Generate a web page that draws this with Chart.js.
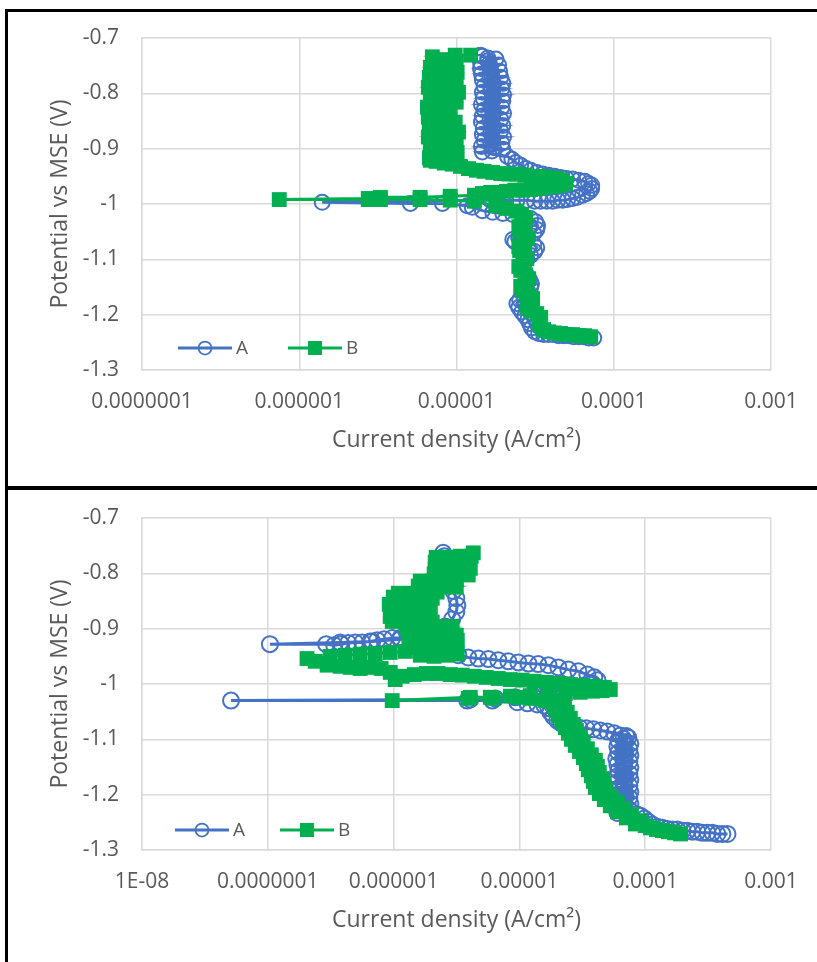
<!DOCTYPE html>
<html>
<head>
<meta charset="utf-8">
<script src="https://cdn.jsdelivr.net/npm/chart.js@4.4.0/dist/chart.umd.min.js"></script>
<style>
  html, body { margin: 0; padding: 0; background: #fff; overflow: hidden; }
  canvas { position: absolute; left: 0; }
  #chartTop { top: 0; }
  #chartBottom { top: 480px; }
  .frame { position: absolute; background: #000; z-index: 2; }
</style>
</head>
<body>
<canvas id="chartTop" width="817" height="480"></canvas>
<canvas id="chartBottom" width="817" height="480"></canvas>
<div class="frame" style="left:5px;top:9px;width:812px;height:3px"></div>
<div class="frame" style="left:5px;top:9px;width:3px;height:953px"></div>
<div class="frame" style="left:5px;top:486px;width:812px;height:4px"></div>
<script>
const seriesNames = ["A", "B"];
const colorA = "#4472C4";
const colorB = "#00B050";

// оси
const yTicks = [-1.3, -1.2, -1.1, -1, -0.9, -0.8, -0.7];
const topXTicks = [1e-7, 1e-6, 1e-5, 1e-4, 1e-3];
const topXLabels = ["0.0000001", "0.000001", "0.00001", "0.0001", "0.001"];
const bottomXTicks = [1e-8, 1e-7, 1e-6, 1e-5, 1e-4, 1e-3];
const bottomXLabels = ["1E-08", "0.0000001", "0.000001", "0.00001", "0.0001", "0.001"];

// верхний график, серия A (ток, A/cm2 и потенциал, V)
const topA_I = [
  7.46e-5, 6.92e-5, 6.43e-5, 5.98e-5, 5.55e-5, 5.16e-5, 4.8e-5, 4.46e-5, 4.14e-5, 3.86e-5,
  3.58e-5, 3.33e-5, 3.14e-5, 3.0e-5, 2.92e-5, 2.84e-5, 2.72e-5, 2.6e-5, 2.49e-5, 2.42e-5,
  2.52e-5, 2.68e-5, 2.84e-5, 2.96e-5, 3.0e-5, 2.92e-5, 2.8e-5, 2.68e-5, 2.6e-5, 2.68e-5,
  2.8e-5, 2.96e-5, 3.14e-5, 3.24e-5, 3.1e-5, 2.72e-5, 2.35e-5, 2.28e-5, 2.49e-5, 2.84e-5,
  3.1e-5, 3.24e-5, 3.28e-5, 3.19e-5, 2.96e-5, 2.64e-5, 2.28e-5, 1.97e-5, 1.7e-5, 1.46e-5,
  1.26e-5, 1.17e-5, 8.14e-6, 5.09e-6, 1.4e-6,
  1.65e-5, 2.05e-5, 2.42e-5, 2.8e-5, 3.14e-5, 3.43e-5, 3.75e-5, 4.08e-5, 4.4e-5, 4.73e-5,
  5.09e-5, 5.47e-5, 5.89e-5, 6.34e-5, 6.72e-5, 7.04e-5, 7.24e-5, 7.24e-5, 6.92e-5, 6.53e-5,
  5.98e-5, 5.47e-5, 5.01e-5, 4.59e-5, 4.2e-5, 3.86e-5, 3.53e-5, 3.24e-5, 2.96e-5, 2.76e-5,
  2.56e-5, 2.38e-5, 2.25e-5, 2.11e-5,
  1.46e-5, 1.68e-5, 1.97e-5, 1.72e-5, 1.44e-5, 1.65e-5, 1.94e-5, 1.7e-5, 1.5e-5, 1.7e-5,
  1.99e-5, 1.68e-5, 1.46e-5, 1.65e-5, 1.91e-5, 1.7e-5, 1.48e-5, 1.72e-5, 1.97e-5, 1.68e-5,
  1.44e-5, 1.63e-5, 1.91e-5, 1.68e-5, 1.46e-5, 1.7e-5, 1.99e-5, 1.72e-5, 1.5e-5, 1.68e-5,
  1.94e-5, 1.65e-5, 1.44e-5, 1.68e-5, 1.97e-5, 1.72e-5, 1.48e-5, 1.7e-5, 1.99e-5, 1.7e-5,
  1.46e-5, 1.65e-5, 1.94e-5, 1.68e-5, 1.5e-5, 1.72e-5, 1.97e-5, 1.7e-5, 1.46e-5, 1.63e-5,
  1.91e-5, 1.68e-5, 1.44e-5, 1.65e-5, 1.88e-5, 1.65e-5, 1.42e-5, 1.62e-5, 1.85e-5, 1.62e-5,
  1.42e-5, 1.58e-5, 1.78e-5, 1.58e-5, 1.46e-5, 1.42e-5
];
const topA_E = [
  -1.242, -1.242, -1.240, -1.240, -1.240, -1.238, -1.238, -1.238, -1.236, -1.236,
  -1.236, -1.234, -1.231, -1.224, -1.216, -1.209, -1.202, -1.195, -1.187, -1.180,
  -1.173, -1.166, -1.158, -1.151, -1.144, -1.137, -1.129, -1.122, -1.115, -1.108,
  -1.100, -1.093, -1.086, -1.079, -1.073, -1.070, -1.068, -1.064, -1.061, -1.059,
  -1.053, -1.046, -1.039, -1.032, -1.026, -1.022, -1.019, -1.017, -1.015, -1.012,
  -1.006, -1.003, -0.999, -0.999, -0.997,
  -0.993, -0.993, -0.993, -0.993, -0.995, -0.995, -0.995, -0.995, -0.993, -0.993,
  -0.992, -0.990, -0.988, -0.984, -0.981, -0.977, -0.972, -0.966, -0.963, -0.959,
  -0.957, -0.955, -0.954, -0.952, -0.950, -0.948, -0.946, -0.943, -0.939, -0.936,
  -0.930, -0.925, -0.919, -0.914,
  -0.906, -0.904, -0.901, -0.898, -0.896, -0.893, -0.890, -0.887, -0.885, -0.882,
  -0.879, -0.877, -0.874, -0.871, -0.868, -0.866, -0.863, -0.860, -0.858, -0.855,
  -0.852, -0.849, -0.847, -0.844, -0.841, -0.839, -0.836, -0.833, -0.830, -0.828,
  -0.825, -0.822, -0.820, -0.817, -0.814, -0.811, -0.809, -0.806, -0.803, -0.801,
  -0.798, -0.795, -0.792, -0.790, -0.787, -0.784, -0.782, -0.779, -0.776, -0.773,
  -0.771, -0.768, -0.765, -0.763, -0.760, -0.757, -0.755, -0.752, -0.749, -0.746,
  -0.744, -0.741, -0.738, -0.736, -0.733, -0.731
];

// верхний график, серия B
const topB_I = [
  7.14e-5, 6.53e-5, 5.98e-5, 5.47e-5, 5.01e-5, 4.59e-5, 4.2e-5, 3.86e-5, 3.58e-5, 3.43e-5,
  3.33e-5, 3.43e-5, 3.24e-5, 2.96e-5, 2.8e-5, 2.96e-5, 3.05e-5, 2.84e-5, 2.64e-5, 2.56e-5,
  2.72e-5, 2.88e-5, 2.76e-5, 2.56e-5, 2.49e-5, 2.64e-5, 2.8e-5, 2.72e-5, 2.52e-5, 2.49e-5,
  2.68e-5, 2.84e-5, 2.72e-5, 2.52e-5, 2.49e-5, 2.64e-5, 2.76e-5, 2.6e-5, 2.42e-5, 2.08e-5,
  1.78e-5, 1.3e-5, 9.12e-6, 5.87e-6, 3.28e-6, 2.75e-6, 7.46e-7,
  2.75e-6, 3.28e-6, 5.87e-6, 9.12e-6, 1.3e-5, 1.46e-5, 1.65e-5, 1.85e-5, 2.08e-5, 2.35e-5,
  2.64e-5, 2.96e-5, 3.33e-5, 3.75e-5, 4.2e-5, 4.59e-5, 4.95e-5, 4.73e-5, 4.33e-5, 3.86e-5,
  3.43e-5, 3.05e-5, 2.72e-5, 2.42e-5, 2.15e-5, 1.91e-5, 1.7e-5, 1.5e-5, 1.34e-5, 1.19e-5,
  1.06e-5, 9.39e-6, 8.35e-6, 7.42e-6, 6.8e-6,
  6.72e-6, 8.26e-6, 1.01e-5, 8.39e-6, 6.82e-6, 8.14e-6, 9.96e-6, 8.26e-6, 6.62e-6, 8.39e-6,
  1.03e-5, 8.26e-6, 6.72e-6, 8.14e-6, 9.81e-6, 8.02e-6, 6.62e-6, 7.91e-6, 9.12e-6, 7.91e-6,
  6.53e-6, 8.02e-6, 9.96e-6, 8.26e-6, 6.82e-6, 8.39e-6, 1.03e-5, 8.39e-6, 6.62e-6, 8.14e-6,
  9.96e-6, 8.26e-6, 6.72e-6, 8.26e-6, 1.01e-5, 8.39e-6, 6.82e-6, 8.39e-6, 9.96e-6, 8.26e-6,
  7.02e-6, 9.81e-6, 1.23e-5
];
const topB_E = [
  -1.240, -1.238, -1.238, -1.236, -1.236, -1.234, -1.233, -1.231, -1.227, -1.220,
  -1.213, -1.205, -1.198, -1.193, -1.186, -1.178, -1.171, -1.164, -1.157, -1.149,
  -1.142, -1.135, -1.128, -1.120, -1.113, -1.106, -1.099, -1.091, -1.084, -1.077,
  -1.070, -1.062, -1.055, -1.048, -1.041, -1.033, -1.026, -1.019, -1.013, -1.008,
  -1.003, -0.995, -0.993, -0.992, -0.992, -0.992, -0.992,
  -0.990, -0.988, -0.988, -0.986, -0.984, -0.981, -0.979, -0.979, -0.977, -0.975,
  -0.975, -0.974, -0.972, -0.970, -0.968, -0.966, -0.963, -0.957, -0.954, -0.952,
  -0.950, -0.950, -0.948, -0.946, -0.946, -0.945, -0.943, -0.941, -0.939, -0.936,
  -0.932, -0.928, -0.926, -0.923, -0.921,
  -0.916, -0.911, -0.907, -0.902, -0.897, -0.893, -0.888, -0.884, -0.879, -0.875,
  -0.870, -0.866, -0.861, -0.857, -0.852, -0.848, -0.843, -0.839, -0.834, -0.830,
  -0.825, -0.820, -0.816, -0.811, -0.807, -0.802, -0.798, -0.793, -0.789, -0.784,
  -0.780, -0.775, -0.771, -0.766, -0.762, -0.757, -0.753, -0.748, -0.743, -0.739,
  -0.734, -0.731, -0.731
];

// нижний график, серия A
const bottomA_I = [
  4.51e-4, 4.11e-4, 3.75e-4, 3.42e-4, 3.13e-4, 2.85e-4, 2.6e-4, 2.37e-4, 2.17e-4, 1.98e-4,
  1.8e-4, 1.65e-4, 1.5e-4, 1.37e-4, 1.25e-4, 1.14e-4, 1.06e-4, 9.85e-5,
  9.16e-5, 8.5e-5, 6.01e-5, 6.71e-5, 7.48e-5, 6.82e-5, 6.11e-5, 6.71e-5, 7.62e-5, 6.82e-5,
  5.89e-5, 6.71e-5, 7.48e-5, 6.96e-5, 6.01e-5, 6.82e-5, 7.62e-5, 6.71e-5, 6.11e-5, 6.82e-5,
  7.48e-5, 6.71e-5, 5.89e-5, 6.71e-5, 7.62e-5, 6.96e-5, 6.01e-5, 6.82e-5, 7.48e-5, 6.71e-5,
  6.11e-5, 6.71e-5, 7.62e-5, 6.82e-5, 6.01e-5, 6.82e-5, 7.48e-5, 6.71e-5, 5.89e-5, 6.71e-5,
  7.62e-5, 6.96e-5, 6.11e-5, 6.82e-5, 7.48e-5, 6.71e-5, 6.01e-5, 6.82e-5, 7.62e-5, 6.96e-5,
  6.11e-5, 6.71e-5, 7.34e-5, 7.08e-5,
  6.34e-5, 5.68e-5, 5.0e-5, 4.4e-5, 3.87e-5, 3.4e-5, 3.0e-5, 2.63e-5, 2.36e-5, 2.15e-5,
  2.0e-5, 1.86e-5, 1.76e-5, 1.7e-5, 1.58e-5, 1.39e-5, 1.16e-5, 9.62e-6, 6.09e-6, 3.85e-6,
  5.1e-8,
  4.07e-6, 6.43e-6, 9.28e-6, 1.27e-5, 1.7e-5, 2.19e-5, 2.73e-5, 3.28e-5, 3.8e-5, 4.17e-5,
  3.94e-5, 3.47e-5, 2.94e-5, 2.45e-5, 2.04e-5, 1.7e-5, 1.41e-5, 1.18e-5, 9.8e-6, 8.16e-6,
  6.79e-6, 5.66e-6, 4.71e-6, 3.92e-6, 3.27e-6, 2.72e-6, 2.18e-6, 1.69e-6, 1.36e-6, 1.13e-6,
  9.75e-7, 8.42e-7, 7.41e-7, 6.51e-7, 5.63e-7, 4.95e-7, 4.35e-7, 3.83e-7, 3.37e-7, 2.91e-7,
  1.04e-7,
  3.76e-7, 6.76e-7, 1.13e-6, 1.63e-6, 2.14e-6, 2.57e-6, 2.92e-6, 3.15e-6, 3.21e-6, 3.15e-6,
  2.98e-6, 2.82e-6, 2.67e-6, 2.62e-6, 2.57e-6, 2.57e-6, 2.53e-6, 2.48e-6
];
const bottomA_E = [
  -1.271, -1.271, -1.271, -1.269, -1.269, -1.269, -1.267, -1.267, -1.265, -1.265,
  -1.263, -1.263, -1.262, -1.260, -1.258, -1.254, -1.249, -1.243,
  -1.238, -1.235, -1.233, -1.230, -1.227, -1.224, -1.222, -1.219, -1.216, -1.214,
  -1.211, -1.208, -1.205, -1.203, -1.200, -1.197, -1.195, -1.192, -1.189, -1.186,
  -1.184, -1.181, -1.178, -1.176, -1.173, -1.170, -1.167, -1.165, -1.162, -1.159,
  -1.157, -1.154, -1.151, -1.148, -1.146, -1.143, -1.140, -1.138, -1.135, -1.132,
  -1.129, -1.127, -1.124, -1.121, -1.118, -1.116, -1.113, -1.110, -1.108, -1.105,
  -1.102, -1.099, -1.097, -1.094,
  -1.093, -1.089, -1.086, -1.084, -1.082, -1.080, -1.079, -1.077, -1.075, -1.071,
  -1.066, -1.059, -1.051, -1.044, -1.039, -1.037, -1.035, -1.033, -1.030, -1.030,
  -1.030,
  -1.028, -1.026, -1.024, -1.021, -1.015, -1.010, -1.006, -1.003, -0.999, -0.993,
  -0.988, -0.983, -0.977, -0.974, -0.970, -0.966, -0.964, -0.963, -0.961, -0.959,
  -0.957, -0.955, -0.954, -0.952, -0.948, -0.943, -0.937, -0.930, -0.923, -0.917,
  -0.917, -0.919, -0.921, -0.923, -0.925, -0.925, -0.926, -0.928, -0.930, -0.928,
  -0.928,
  -0.925, -0.923, -0.919, -0.914, -0.907, -0.896, -0.883, -0.870, -0.858, -0.845,
  -0.832, -0.821, -0.811, -0.800, -0.789, -0.778, -0.769, -0.763
];

// нижний график, серия B
const bottomB_I = [
  1.91e-4, 1.71e-4, 1.53e-4, 1.37e-4, 1.23e-4, 1.1e-4, 1.0e-4,
  8.36e-5, 9.16e-5, 7.08e-5, 7.76e-5, 6.01e-5, 6.71e-5, 5.28e-5, 6.01e-5, 4.73e-5, 5.38e-5,
  4.32e-5, 4.91e-5, 4.02e-5, 4.73e-5, 3.87e-5, 4.56e-5, 3.73e-5, 4.32e-5, 3.53e-5, 4.17e-5,
  3.4e-5, 4.02e-5, 3.22e-5, 3.73e-5, 3.0e-5, 3.47e-5, 2.78e-5, 3.22e-5, 2.59e-5, 3.05e-5,
  2.45e-5, 2.84e-5, 2.32e-5, 2.68e-5, 2.19e-5, 2.54e-5, 2.04e-5, 2.4e-5, 1.93e-5, 2.28e-5,
  1.83e-5,
  1.61e-5, 1.22e-5, 9.8e-6, 6.2e-6, 3.92e-6, 9.75e-7,
  4.07e-6, 5.87e-6, 8.47e-6, 1.22e-5, 1.7e-5, 2.32e-5, 3.05e-5, 3.8e-5, 4.56e-5, 5.28e-5,
  4.73e-5, 3.94e-5, 3.16e-5, 2.54e-5, 2.04e-5, 1.64e-5, 1.31e-5, 1.05e-5, 8.47e-6, 6.79e-6,
  5.45e-6, 4.38e-6, 3.51e-6, 2.82e-6, 2.26e-6, 1.82e-6, 1.46e-6, 1.17e-6, 1.03e-6, 9.4e-7,
  7.96e-7, 6.51e-7, 5.42e-7, 4.52e-7, 3.76e-7, 2.96e-7, 2.38e-7, 2.05e-7,
  3.13e-7, 4.12e-7, 5.42e-7, 7.14e-7, 9.4e-7, 1.24e-6,
  1.63e-6, 2.1e-6, 2.62e-6, 3.21e-6, 3.15e-6, 2.53e-6, 2.03e-6, 1.63e-6, 1.33e-6, 1.36e-6,
  1.69e-6, 2.1e-6, 2.62e-6, 3.21e-6, 3.15e-6, 2.53e-6, 2.03e-6, 1.63e-6, 1.31e-6, 1.26e-6,
  1.57e-6, 1.96e-6, 2.44e-6, 2.92e-6,
  2.03e-6, 1.6e-6, 1.24e-6, 9.75e-7, 9.4e-7, 1.19e-6, 1.51e-6, 1.92e-6, 1.96e-6, 1.54e-6,
  1.21e-6, 9.57e-7, 9.23e-7, 1.17e-6, 1.49e-6, 1.89e-6, 2.03e-6, 1.6e-6, 1.26e-6, 9.93e-7,
  1.09e-6, 1.38e-6, 1.75e-6, 2.22e-6,
  3.15e-6, 2.48e-6, 1.96e-6, 1.57e-6, 1.63e-6, 2.03e-6, 2.53e-6, 3.15e-6,
  3.92e-6, 3.15e-6, 2.57e-6, 2.1e-6, 2.14e-6, 2.67e-6, 3.33e-6, 4.07e-6, 3.99e-6, 3.21e-6,
  2.62e-6, 2.14e-6, 2.18e-6, 2.72e-6, 3.39e-6, 4.14e-6, 4.3e-6
];
const bottomB_E = [
  -1.271, -1.269, -1.267, -1.265, -1.263, -1.260, -1.256,
  -1.253, -1.247, -1.242, -1.236, -1.231, -1.225, -1.220, -1.214, -1.209, -1.204,
  -1.198, -1.193, -1.187, -1.182, -1.176, -1.171, -1.166, -1.160, -1.155, -1.149,
  -1.144, -1.138, -1.133, -1.128, -1.122, -1.117, -1.111, -1.106, -1.100, -1.095,
  -1.089, -1.084, -1.079, -1.073, -1.068, -1.062, -1.057, -1.051, -1.046, -1.041,
  -1.035,
  -1.030, -1.026, -1.024, -1.026, -1.026, -1.030,
  -1.024, -1.024, -1.022, -1.021, -1.019, -1.017, -1.015, -1.013, -1.012, -1.010,
  -1.006, -1.004, -1.003, -1.001, -0.999, -0.997, -0.995, -0.993, -0.992, -0.990,
  -0.988, -0.986, -0.984, -0.983, -0.981, -0.981, -0.983, -0.986, -0.992, -0.979,
  -0.972, -0.970, -0.972, -0.970, -0.968, -0.966, -0.959, -0.954,
  -0.950, -0.948, -0.946, -0.945, -0.943, -0.941,
  -0.948, -0.950, -0.948, -0.946, -0.937, -0.937, -0.936, -0.936, -0.934, -0.925,
  -0.925, -0.923, -0.923, -0.921, -0.912, -0.912, -0.910, -0.910, -0.908, -0.899,
  -0.899, -0.897, -0.897, -0.896,
  -0.888, -0.888, -0.887, -0.887, -0.878, -0.878, -0.876, -0.876, -0.867, -0.865,
  -0.865, -0.865, -0.856, -0.856, -0.854, -0.854, -0.845, -0.845, -0.843, -0.843,
  -0.836, -0.836, -0.834, -0.834,
  -0.825, -0.825, -0.823, -0.823, -0.814, -0.814, -0.812, -0.812,
  -0.803, -0.803, -0.801, -0.801, -0.792, -0.792, -0.791, -0.791, -0.782, -0.782,
  -0.780, -0.780, -0.771, -0.771, -0.769, -0.769, -0.763
];

function toPoints(I, E) {
  return I.map((v, i) => ({ x: v, y: E[i] }));
}

// легенда внутри области графика
const insideLegend = {
  id: "insideLegend",
  afterDraw(chart, args, opts) {
    const ctx = chart.ctx;
    const area = chart.chartArea;
    const y = area.bottom - opts.lift;
    chart.data.datasets.forEach((ds, i) => {
      const x0 = area.left + opts.starts[i];
      const cx = x0 + opts.lineLen / 2;
      ctx.save();
      ctx.strokeStyle = ds.borderColor;
      ctx.lineWidth = ds.borderWidth;
      ctx.beginPath();
      ctx.moveTo(x0, y);
      ctx.lineTo(x0 + opts.lineLen, y);
      ctx.stroke();
      if (ds.pointStyle === "circle") {
        ctx.beginPath();
        ctx.arc(cx, y, opts.circleR, 0, Math.PI * 2);
        ctx.lineWidth = 1.75;
        ctx.strokeStyle = ds.pointBorderColor;
        ctx.stroke();
      } else {
        ctx.fillStyle = ds.pointBackgroundColor;
        ctx.fillRect(cx - opts.squareHalf, y - opts.squareHalf, opts.squareHalf * 2, opts.squareHalf * 2);
      }
      ctx.fillStyle = "#595959";
      ctx.font = "19px 'Open Sans'";
      ctx.textBaseline = "middle";
      ctx.fillText(ds.label, x0 + opts.lineLen + 4, y + 1);
      ctx.restore();
    });
  }
};

function makeChart(id, xTicks, xLabels, aI, aE, bI, bE, circleR, legendOpts) {
  const tickFont = { family: "Open Sans", size: 21 };
  const titleFont = { family: "Open Sans", size: 23 };
  return new Chart(document.getElementById(id).getContext("2d"), {
    type: "scatter",
    data: {
      datasets: [
        {
          label: seriesNames[0],
          data: toPoints(aI, aE),
          showLine: true,
          borderColor: colorA,
          borderWidth: 3,
          pointStyle: "circle",
          pointRadius: circleR,
          pointBorderWidth: 2,
          pointBorderColor: colorA,
          pointBackgroundColor: "rgba(255,255,255,0)",
          order: 2,
        },
        {
          label: seriesNames[1],
          data: toPoints(bI, bE),
          showLine: true,
          borderColor: colorB,
          borderWidth: 3,
          pointStyle: "rect",
          pointRadius: 10.5,
          pointBorderWidth: 0,
          pointBorderColor: colorB,
          pointBackgroundColor: colorB,
          order: 1,
        },
      ],
    },
    options: {
      responsive: false,
      animation: false,
      events: [],
      layout: { padding: { left: 0, right: 46, top: 38, bottom: 0 } },
      plugins: {
        legend: { display: false },
        tooltip: { enabled: false },
        insideLegend: legendOpts,
      },
      scales: {
        x: {
          type: "logarithmic",
          min: xTicks[0],
          max: xTicks[xTicks.length - 1],
          afterBuildTicks: (s) => { s.ticks = xTicks.map((v) => ({ value: v })); },
          afterFit: (s) => { s.height = 110; },
          ticks: {
            callback: (v, i) => xLabels[i],
            color: "#595959",
            font: tickFont,
            padding: 19,
            maxRotation: 0,
            autoSkip: false,
          },
          grid: { color: "#d9d9d9", lineWidth: 1.5, drawTicks: false },
          border: { color: "#d9d9d9", width: 1.5 },
          title: {
            display: true,
            text: "Current density (A/cm²)",
            color: "#595959",
            font: titleFont,
            padding: { top: 0, bottom: 26 },
          },
        },
        y: {
          type: "linear",
          min: yTicks[0],
          max: yTicks[yTicks.length - 1],
          afterBuildTicks: (s) => { s.ticks = yTicks.map((v) => ({ value: v })); },
          afterFit: (s) => { s.width = 142; },
          ticks: {
            callback: (v) => String(v),
            color: "#595959",
            font: tickFont,
            padding: 23,
          },
          grid: { color: "#d9d9d9", lineWidth: 1.5, drawTicks: false },
          border: { color: "#d9d9d9", width: 1.5 },
          title: {
            display: true,
            text: "Potential vs MSE (V)",
            color: "#595959",
            font: titleFont,
            padding: { top: 47, bottom: 0 },
          },
        },
      },
    },
    plugins: [insideLegend],
  });
}

makeChart("chartTop", topXTicks, topXLabels, topA_I, topA_E, topB_I, topB_E, 7.5,
  { lift: 22, starts: [36, 146], lineLen: 54, circleR: 6.5, squareHalf: 7 });
makeChart("chartBottom", bottomXTicks, bottomXLabels, bottomA_I, bottomA_E, bottomB_I, bottomB_E, 8,
  { lift: 20, starts: [33, 138], lineLen: 54, circleR: 6.5, squareHalf: 7 });
</script>
</body>
</html>
